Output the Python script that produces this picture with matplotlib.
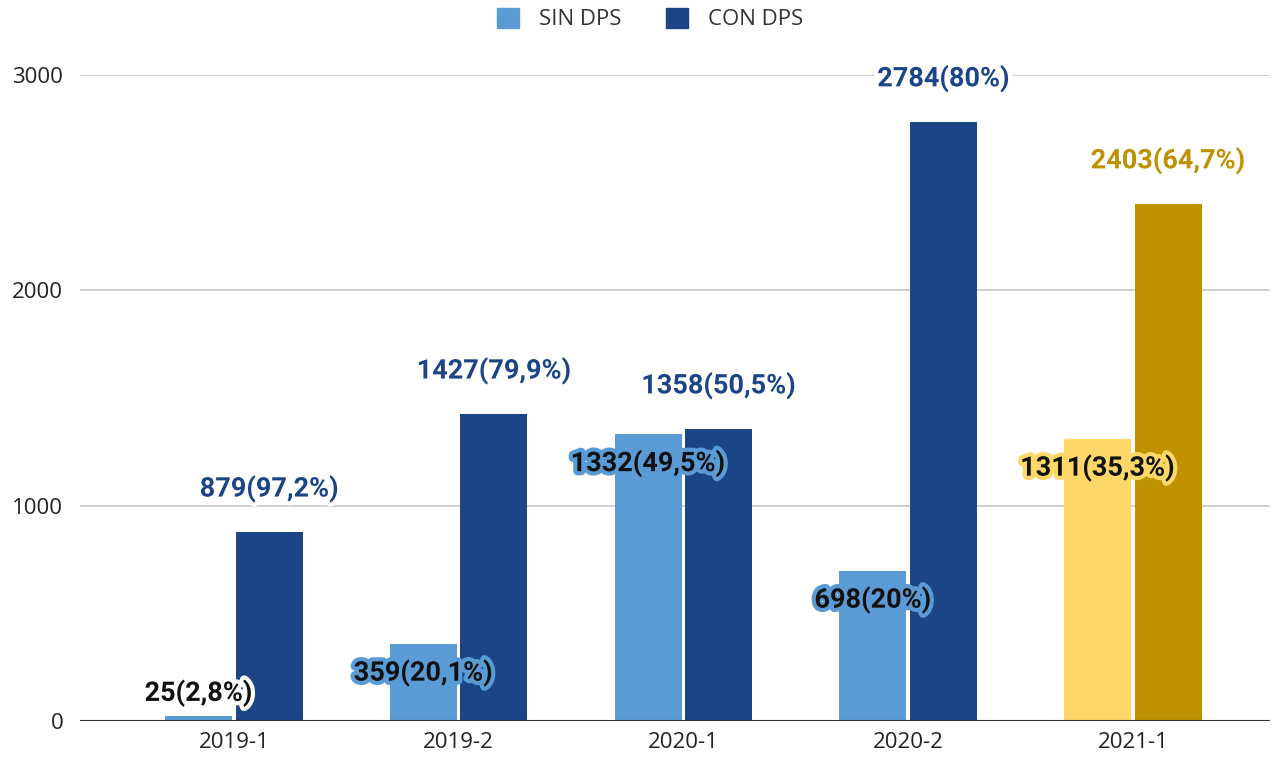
import matplotlib.pyplot as plt
import matplotlib.patheffects as pe
import numpy as np

periods = ['2019-1', '2019-2', '2020-1', '2020-2', '2021-1']
sin_dps = [25, 359, 1332, 698, 1311]
con_dps = [879, 1427, 1358, 2784, 2403]
sin_pct = ['2,8%', '20,1%', '49,5%', '20%', '35,3%']
con_pct = ['97,2%', '79,9%', '50,5%', '80%', '64,7%']

sin_colors = ['#5b9bd5'] * 4 + ['#fdd868']
con_colors = ['#1c4587'] * 4 + ['#bf9000']

fig = plt.figure(figsize=(12.75, 7.62), dpi=100)
ax = fig.add_axes([80 / 1275, 41 / 762, 1190 / 1275, 646 / 762])

x = np.arange(len(periods))
w = 0.298
off = 0.157
ax.bar(x - off, sin_dps, w, color=sin_colors, zorder=3)
ax.bar(x + off, con_dps, w, color=con_colors, zorder=3)

ax.set_xlim(-0.685, 4.61)
ax.set_ylim(0, 3000)
ax.set_yticks([0, 1000, 2000, 3000])
ax.yaxis.grid(color='#cccccc', linewidth=1.3, zorder=0)
ax.axhline(0, color='#333333', linewidth=1.5, zorder=4)
for s in ax.spines.values():
    s.set_visible(False)
ax.set_xticks(x)
ax.set_xticklabels(periods)
ax.tick_params(length=0, labelsize=16, labelcolor='#222222', pad=8)
for t in ax.get_xticklabels() + ax.get_yticklabels():
    t.set_fontfamily('Open Sans')
ax.tick_params(axis='y', pad=12)

lab_font = dict(fontfamily='Roboto', fontweight='bold', fontsize=19.5,
                ha='center', va='center', zorder=6, clip_on=False)

# labels for SIN DPS: black text with coloured halo
for i in range(len(periods)):
    txt = f'{sin_dps[i]}({sin_pct[i]})'
    halo = '#ffffff' if sin_dps[i] < 100 else sin_colors[i]
    if sin_dps[i] < 100:
        y = sin_dps[i] + 105
    else:
        y = sin_dps[i] - 135
    ax.text(x[i] - off, y, txt, color='#111111',
            path_effects=[pe.withStroke(linewidth=6, foreground=halo)], **lab_font)

# labels for CON DPS: coloured text with white halo
for i in range(len(periods)):
    txt = f'{con_dps[i]}({con_pct[i]})'
    ax.text(x[i] + off, con_dps[i] + 200, txt, color=con_colors[i],
            path_effects=[pe.withStroke(linewidth=6, foreground='white')], **lab_font)

handles = [plt.Rectangle((0, 0), 1, 1, color='#5b9bd5'),
           plt.Rectangle((0, 0), 1, 1, color='#1c4587')]
fig.legend(handles, ['SIN DPS', 'CON DPS'], loc='center', bbox_to_anchor=(0.51, 0.975),
           ncol=2, frameon=False, prop={'family': 'Open Sans', 'size': 16},
           labelcolor='#333333', handlelength=1.0, handleheight=1.0,
           columnspacing=2.0, handletextpad=0.9)

fig.savefig('out.png', dpi=100)
